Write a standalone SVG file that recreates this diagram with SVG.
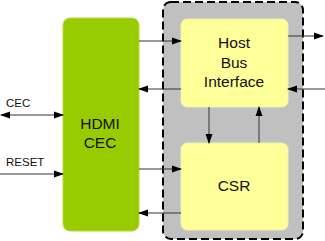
<svg xmlns="http://www.w3.org/2000/svg" width="325" height="241" viewBox="0 0 325 241">
<style>
text{font-family:"Liberation Sans",Arial,sans-serif;fill:#111}
.lbl{font-size:15.5px;text-anchor:middle}
.sm{font-size:11.5px}
.ln{stroke:#333;stroke-width:1;fill:none}
</style>
<defs>
<marker id="ah" markerWidth="10" markerHeight="8" refX="9" refY="4" orient="auto" markerUnits="userSpaceOnUse">
<path d="M0,0.5 L10,4 L0,7.5 Z" fill="#000"/>
</marker>
<marker id="as" markerWidth="10" markerHeight="8" refX="1" refY="4" orient="auto" markerUnits="userSpaceOnUse">
<path d="M10,0.5 L0,4 L10,7.5 Z" fill="#000"/>
</marker>
</defs>
<g id="container">
<rect x="163" y="2" width="140" height="237" rx="8" fill="#c0c0c0" stroke="#000" stroke-width="2" stroke-dasharray="8,4"/>
</g>
<g id="hdmi-cec">
<rect x="63" y="18" width="76" height="213" rx="7" fill="#99cc00" stroke="#b5dc40" stroke-width="1"/>
<text class="lbl" x="100" y="129">HDMI</text>
<text class="lbl" x="100" y="148">CEC</text>
</g>
<g id="host-bus-interface">
<rect x="181" y="19" width="107" height="88" rx="6" fill="#ffff99" stroke="#f0f0b0" stroke-width="1"/>
<text class="lbl" x="234" y="48">Host</text>
<text class="lbl" x="234" y="67.5">Bus</text>
<text class="lbl" x="234" y="87">Interface</text>
</g>
<g id="csr">
<rect x="181" y="143" width="107" height="87" rx="6" fill="#ffff99" stroke="#f0f0b0" stroke-width="1"/>
<text class="lbl" x="234" y="191">CSR</text>
</g>
<g id="connectors">
<line class="ln" x1="139" y1="41" x2="181" y2="41" marker-end="url(#ah)"/>
<line class="ln" x1="181" y1="89" x2="139" y2="89" marker-end="url(#ah)"/>
<line class="ln" x1="288" y1="36" x2="323" y2="36" marker-end="url(#ah)"/>
<line class="ln" x1="325" y1="89" x2="288" y2="89" marker-end="url(#ah)"/>
<line class="ln" x1="209" y1="107" x2="209" y2="143" marker-end="url(#ah)"/>
<line class="ln" x1="259" y1="143" x2="259" y2="107" marker-end="url(#ah)"/>
<line class="ln" x1="139" y1="169" x2="181" y2="169" marker-end="url(#ah)"/>
<line class="ln" x1="181" y1="213" x2="139" y2="213" marker-end="url(#ah)"/>
<line class="ln" x1="1" y1="115" x2="63" y2="115" marker-start="url(#as)" marker-end="url(#ah)"/>
<line class="ln" x1="0" y1="174" x2="63" y2="174" marker-end="url(#ah)"/>
<text class="sm" x="6" y="107">CEC</text>
<text class="sm" x="6" y="166">RESET</text>
</g>
</svg>
